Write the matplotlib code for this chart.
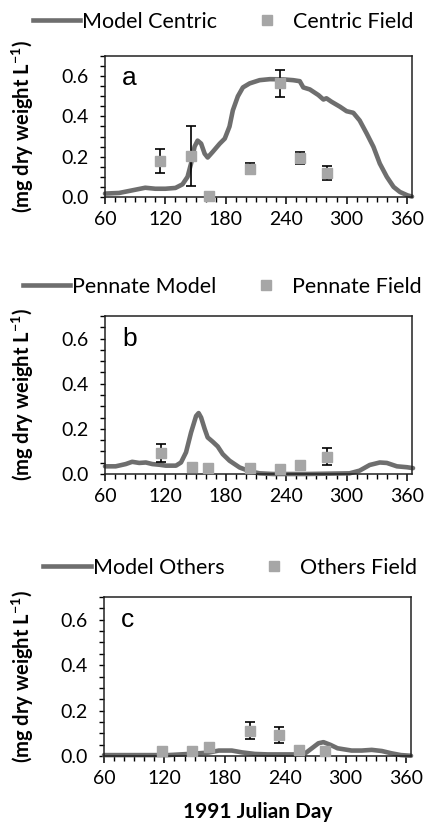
import matplotlib
matplotlib.use("Agg")
import matplotlib.pyplot as plt
from matplotlib.lines import Line2D
from matplotlib.ticker import MultipleLocator

# ---------------- data ----------------
centric_model_day = [60, 74, 87, 100, 110, 120, 130, 137, 142, 145.5, 149, 152, 155.5, 159, 162, 167, 174,
                     179, 183.7, 187, 192, 197, 203.7, 213.6, 223.7, 237, 247, 253.5, 257, 263.5, 272, 277,
                     280, 285, 293.5, 300, 306.7, 313, 320, 326.7, 333, 340, 346.7, 353, 360.6, 365]
centric_model_val = [0.017, 0.02, 0.033, 0.046, 0.041, 0.041, 0.045, 0.063, 0.10, 0.166, 0.25, 0.28, 0.265,
                     0.215, 0.196, 0.224, 0.265, 0.29, 0.35, 0.43, 0.50, 0.544, 0.564, 0.58, 0.585, 0.584,
                     0.58, 0.575, 0.544, 0.534, 0.506, 0.484, 0.49, 0.473, 0.448, 0.426, 0.418, 0.38, 0.315,
                     0.249, 0.166, 0.10, 0.05, 0.025, 0.008, 0.002]
centric_field_day = [115, 145.5, 163, 204, 234, 254, 281]
centric_field_val = [0.179, 0.204, 0.003, 0.141, 0.564, 0.194, 0.119]
centric_field_err = [0.06, 0.15, 0.0, 0.026, 0.067, 0.03, 0.033]

pennate_model_day = [60, 70.6, 80.6, 87, 94, 100.6, 107, 114, 120.5, 130.5, 135.5, 140.5, 145.5, 150.5, 153,
                     155.5, 159, 162, 167, 172, 177, 183.7, 193.7, 203.7, 213.6, 227, 260, 303, 313, 323,
                     333, 340, 350, 360, 366]
pennate_model_val = [0.034, 0.034, 0.044, 0.054, 0.049, 0.051, 0.044, 0.041, 0.037, 0.037, 0.051, 0.096,
                     0.184, 0.257, 0.27, 0.25, 0.20, 0.162, 0.143, 0.122, 0.088, 0.059, 0.029, 0.012, 0.003,
                     0.0, 0.0, 0.003, 0.015, 0.04, 0.051, 0.049, 0.034, 0.03, 0.026]
pennate_field_day = [115.5, 146, 162, 204, 233.6, 253.5, 281]
pennate_field_val = [0.093, 0.029, 0.026, 0.026, 0.022, 0.04, 0.076]
pennate_field_err = [0.04, 0.0, 0.0, 0.0, 0.0, 0.0, 0.038]

others_model_day = [60, 124, 144, 164, 174, 187, 197, 210, 223, 250, 260, 266.5, 273, 278, 285, 292, 306,
                    316, 326, 336, 345.5, 355, 365]
others_model_val = [0.004, 0.004, 0.009, 0.015, 0.024, 0.024, 0.016, 0.009, 0.007, 0.007, 0.012, 0.034,
                    0.056, 0.061, 0.049, 0.034, 0.024, 0.024, 0.027, 0.022, 0.012, 0.004, 0.001]
others_field_day = [117.7, 147.4, 164, 205, 234, 254, 280]
others_field_val = [0.024, 0.021, 0.041, 0.111, 0.093, 0.027, 0.022]
others_field_err = [0.0, 0.0, 0.0, 0.037, 0.034, 0.0, 0.0]

panel_letters = ["a", "b", "c"]
line_labels = ["Model Centric", "Pennate Model", "Model Others"]
field_labels = ["Centric Field", "Pennate Field", "Others Field"]
x_ticks = [60, 120, 180, 240, 300, 360]
y_ticks = [0.0, 0.2, 0.4, 0.6]

# ---------------- style ----------------
plt.rcParams['font.family'] = ['Lato', 'DejaVu Sans']
plt.rcParams['mathtext.fontset'] = 'custom'
plt.rcParams['mathtext.rm'] = 'Lato'
plt.rcParams['mathtext.bf'] = 'Lato:bold'
W, H = 425, 825
fig = plt.figure(figsize=(W / 100, H / 100), dpi=100)

LINE_C = '#6e6e6e'
MARK_C = '#a6a6a6'

# axes boxes in pixels: (left, top, right, bottom)
boxes = [(105, 56, 412, 197), (105, 316, 412, 474), (104, 597, 411, 756)]
legend_pos = [(223, 22), (222, 287), (230, 568)]

series = [
    (centric_model_day, centric_model_val, centric_field_day, centric_field_val, centric_field_err),
    (pennate_model_day, pennate_model_val, pennate_field_day, pennate_field_val, pennate_field_err),
    (others_model_day, others_model_val, others_field_day, others_field_val, others_field_err),
]

for i, (box, (md, mv, fd, fv, fe)) in enumerate(zip(boxes, series)):
    l, t, r, b = box
    ax = fig.add_axes([l / W, 1 - b / H, (r - l) / W, (b - t) / H])
    ax.plot(md, mv, color=LINE_C, lw=3.3, solid_joinstyle='round', solid_capstyle='round', zorder=2,
            clip_on=False)
    ed = [d for d, e in zip(fd, fe) if e > 0]
    ev = [v for v, e in zip(fv, fe) if e > 0]
    ee = [e for e in fe if e > 0]
    ax.errorbar(ed, ev, yerr=ee, fmt='none', ecolor='black', elinewidth=1.2, capsize=3.5, capthick=1.2,
                zorder=3)
    ax.plot(fd, fv, ls='none', marker='s', ms=6.8, color=MARK_C, mec=MARK_C, zorder=4, clip_on=False)

    ax.set_xlim(60, 365)
    ax.set_ylim(0, 0.7)
    ax.set_xticks(x_ticks)
    ax.set_yticks(y_ticks)
    ax.set_yticklabels([f"{v:.1f}" for v in y_ticks])
    ax.xaxis.set_minor_locator(MultipleLocator(10))
    ax.yaxis.set_minor_locator(MultipleLocator(0.05))
    ax.tick_params(axis='x', which='major', direction='out', length=5.2, width=1.1, labelsize=14, pad=5)
    ax.tick_params(axis='x', which='minor', direction='out', length=3.6, width=1.0)
    ax.tick_params(axis='y', which='major', direction='out', length=3.6, width=1.0, labelsize=14, pad=8)
    ax.tick_params(axis='y', which='minor', direction='out', length=3.6, width=1.0)
    for s in ax.spines.values():
        s.set_linewidth(1.1)
        s.set_color('#222222')

    ax.text(0.055, 0.93, panel_letters[i], transform=ax.transAxes, ha='left', va='top',
            fontsize=19, family=['Liberation Sans', 'DejaVu Sans'])

    fig.text(23 / W, 1 - ((t + b) / 2) / H, "(mg dry weight L$^{\\mathbf{-1}}$)", rotation=90,
             ha='center', va='center', fontsize=14.5, fontweight='bold')

    handles = [Line2D([], [], color=LINE_C, lw=3.3),
               Line2D([], [], ls='none', marker='s', ms=6.8, color=MARK_C)]
    lx, ly = legend_pos[i]
    fig.legend(handles, [line_labels[i], field_labels[i]], loc='center',
               bbox_to_anchor=(lx / W, 1 - ly / H), ncol=2, frameon=False, fontsize=15.5,
               handlelength=2.2, handletextpad=0.1, columnspacing=1.2, borderpad=0)

    if i == 2:
        ax.set_xlabel("1991 Julian Day", fontsize=15, fontweight='bold', labelpad=11)

fig.savefig("out.png", dpi=100)
